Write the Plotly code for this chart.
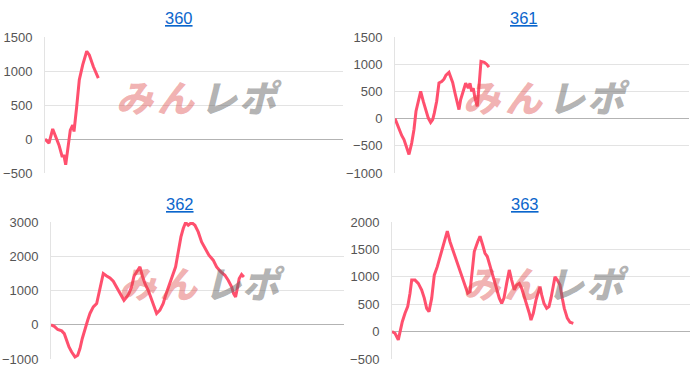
import plotly.graph_objects as go

# ---- data: x = games played, y = balance ----
titles = ["360", "361", "362", "363"]

games_360 = [0, 121, 233, 332, 423, 513, 574, 625, 764, 836, 876, 957, 1036, 1139, 1260, 1338, 1459, 1610]
diff_360 = [0, -60, 147, 10, -90, -250, -250, -380, 130, 205, 110, 475, 870, 1090, 1290, 1235, 1065, 895]

games_361 = [0, 101, 205, 275, 358, 428, 511, 581, 643, 713, 786, 866, 949, 1019, 1092, 1154, 1203, 1276,
             1346, 1429, 1499, 1561, 1652, 1704, 1765, 1836, 1919, 1958, 2010, 2090, 2163, 2243, 2295,
             2347, 2396, 2448, 2518, 2580, 2632, 2733, 2806, 2876]
diff_361 = [0, -170, -310, -385, -540, -660, -450, -200, 135, 315, 500, 315, 135, 10, -70, -20, 100, 320,
            655, 680, 725, 800, 850, 780, 665, 470, 280, 165, 350, 500, 650, 560, 650,
            500, 560, 380, 225, 650, 1050, 1035, 1000, 945]

games_362 = [0, 101, 206, 328, 408, 482, 553, 635, 737, 820, 890, 961, 1044, 1127, 1197, 1299, 1403, 1474,
             1535, 1606, 1710, 1811, 1913, 2017, 2118, 2241, 2324, 2395, 2477, 2548, 2631, 2732, 2815,
             2886, 2987, 3091, 3171, 3245, 3346, 3447, 3521, 3623, 3724, 3828, 3908, 3991, 4062, 4135,
             4215, 4319, 4421, 4522, 4626, 4728, 4851, 4983, 5087, 5219, 5342, 5443, 5548, 5609, 5670,
             5732, 5781, 5855, 5925]
diff_362 = [0, -45, -140, -180, -260, -450, -650, -795, -940, -890, -695, -400, -110, 130, 330, 520, 620, 910,
            1250, 1495, 1425, 1365, 1270, 1105, 910, 715, 810, 910, 1105, 1415, 1540, 1690, 1400,
            1200, 1005, 715, 475, 330, 425, 620, 860, 1150, 1395, 1690, 2125, 2565, 2810, 2985,
            2905, 2985, 2905, 2710, 2420, 2225, 2030, 1885, 1690, 1540, 1445, 1300, 1105, 910, 810,
            1105, 1350, 1465, 1395]

games_363 = [0, 91, 190, 242, 311, 393, 474, 544, 595, 695, 794, 897, 975, 1047, 1117, 1199, 1277, 1368,
             1450, 1531, 1601, 1670, 1752, 1851, 1954, 2054, 2153, 2286, 2356, 2426, 2485, 2588, 2658,
             2739, 2809, 2878, 2960, 3041, 3141, 3240, 3313, 3382, 3463, 3542, 3614, 3693, 3765, 3844,
             3916, 3995, 4067, 4147, 4198, 4267, 4349, 4419, 4470, 4521, 4590, 4672, 4741, 4802, 4872,
             4923, 4992, 5074, 5143, 5204, 5294, 5376, 5476]
diff_363 = [0, -30, -150, 0, 180, 335, 455, 700, 940, 940, 880, 760, 610, 425, 365, 610, 1030, 1185,
            1370, 1520, 1670, 1835, 1640, 1460, 1275, 1095, 915, 700, 730, 1095, 1460, 1640, 1740,
            1580, 1430, 1370, 1215, 1030, 820, 610, 515, 610, 880, 1125, 940, 760, 850, 880,
            790, 635, 515, 335, 210, 335, 575, 730, 820, 670, 515, 425, 455, 610, 820,
            1000, 940, 850, 610, 425, 245, 170, 150]

y_ranges = [[-500, 1500], [-1000, 1500], [-1000, 3000], [-500, 2000]]
y_dticks = [500, 500, 1000, 500]
x_max = 9000

series = [(games_360, diff_360), (games_361, diff_361), (games_362, diff_362), (games_363, diff_363)]

W, H = 700, 376
# plot areas in pixels: (left, right, top, bottom)
areas = [(45, 343, 37, 173), (395, 689, 37, 173), (51, 344, 222, 359), (392, 690, 222, 359)]
title_pos = [(179, 18), (524, 18), (180, 204), (525, 204)]

fig = go.Figure()
LINE = "rgb(255,80,110)"

for i, (gx, gy) in enumerate(series):
    n = "" if i == 0 else str(i + 1)
    fig.add_trace(go.Scatter(x=gx, y=gy, mode="lines",
                             line=dict(color=LINE, width=3),
                             xaxis="x" + n, yaxis="y" + n, showlegend=False,
                             hoverinfo="skip"))
    l, r, t, b = areas[i]
    fig.update_layout(**{
        "xaxis" + n: dict(domain=[l / W, r / W], range=[0, x_max], showgrid=False,
                          showticklabels=False, zeroline=False, showline=False, ticks="",
                          automargin=False, anchor="y" + n, fixedrange=True),
        "yaxis" + n: dict(domain=[1 - b / H, 1 - t / H], range=y_ranges[i], dtick=y_dticks[i],
                          showgrid=True, gridcolor="#e3e3e3", gridwidth=1,
                          zeroline=True, zerolinecolor="#b3b3b3", zerolinewidth=1,
                          showline=True, linecolor="#e3e3e3", linewidth=1,
                          ticks="", ticklabelstandoff=9, automargin=False,
                          tickfont=dict(family="Liberation Sans, Arial", size=13, color="#555555"),
                          anchor="x" + n, fixedrange=True),
    })
    tx, ty = title_pos[i]
    fig.add_annotation(x=tx / W, y=1 - ty / H, xref="paper", yref="paper",
                       text=titles[i], showarrow=False, xanchor="center", yanchor="middle",
                       font=dict(family="Liberation Sans, Arial", size=16.5, color="#0b66cc",
                                 lineposition="under"))
    # watermark logo
    cx = (l + r) / 2
    cy = t + (b - t) * 0.435
    marks = [("み", -59, "rgba(222,70,70,0.42)"), ("ん", -18, "rgba(222,70,70,0.42)"),
             ("レ", 25, "rgba(105,105,105,0.52)"), ("ポ", 66, "rgba(105,105,105,0.52)")]
    for ch, dx, col in marks:
        fig.add_annotation(x=(cx + dx) / W, y=1 - cy / H, xref="paper", yref="paper",
                           text=ch, showarrow=False,
                           xanchor="center", yanchor="middle",
                           font=dict(family="Noto Sans CJK JP", size=37, color=col,
                                     weight=900, style="italic"))

fig.update_layout(width=W, height=H,
                  margin=dict(l=0, r=0, t=0, b=0, pad=0, autoexpand=False),
                  paper_bgcolor="white", plot_bgcolor="white", showlegend=False)

fig.write_html("out.html")
